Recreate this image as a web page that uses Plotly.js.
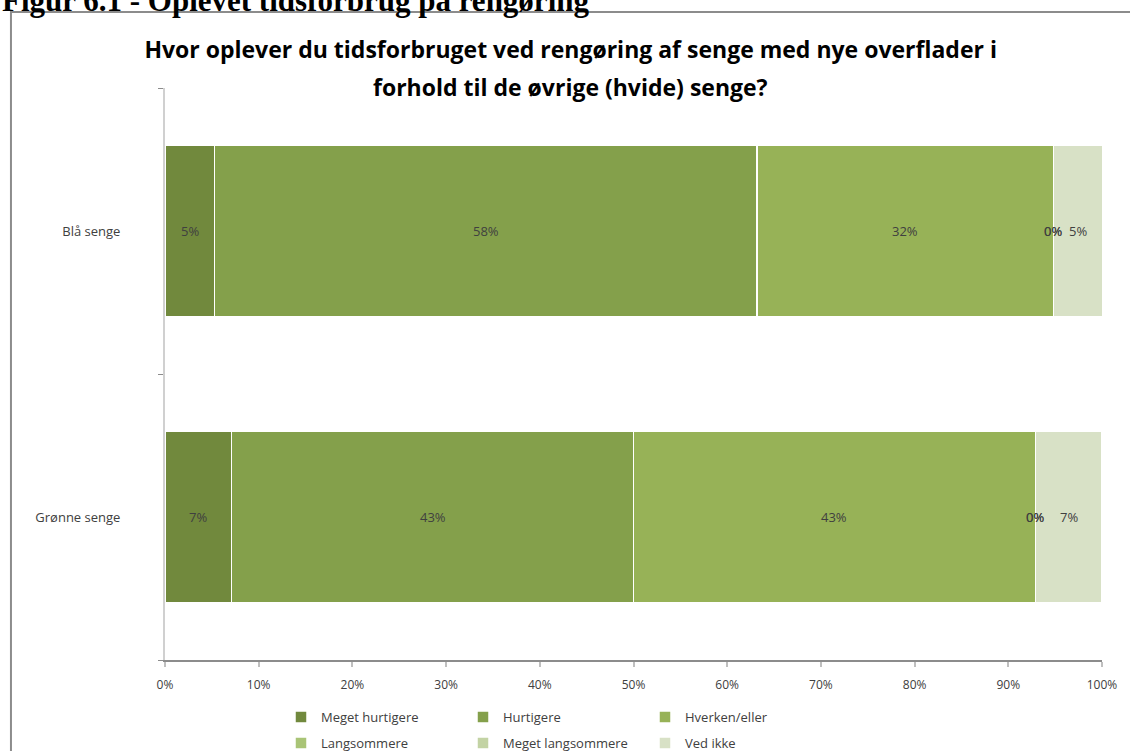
<!DOCTYPE html>
<html>
<head>
<meta charset="utf-8">
<script src="https://cdn.plot.ly/plotly-3.0.1.min.js"></script>
<style>html,body{margin:0;padding:0;background:#fff;}#chart{width:1130px;height:751px;}</style>
</head>
<body>
<div id="chart"></div>
<script>
// Data
const categories = ['Blå senge', 'Grønne senge'];
const seriesNames = ['Meget hurtigere', 'Hurtigere', 'Hverken/eller', 'Langsommere', 'Meget langsommere', 'Ved ikke'];
const blaaSenge = [5.3, 57.9, 31.6, 0, 0, 5.3];
const groenneSenge = [7.1, 42.9, 42.9, 0, 0, 7.1];
const xTickVals = [0, 10, 20, 30, 40, 50, 60, 70, 80, 90, 100];
const xTickText = ['0%', '10%', '20%', '30%', '40%', '50%', '60%', '70%', '80%', '90%', '100%'];
const titleLine1 = 'Hvor oplever du tidsforbruget ved rengøring af senge med nye overflader i';
const titleLine2 = 'forhold til de øvrige (hvide) senge?';
const captionText = 'Figur 6.1 - Oplevet tidsforbrug på rengøring';

const colors = ['#71893d', '#84a04b', '#97b257', '#a9c476', '#c3d3a4', '#d8e1c6'];
const rows = [blaaSenge, groenneSenge];

const traces = seriesNames.map((name, i) => ({
  type: 'bar',
  orientation: 'h',
  name: name,
  y: categories,
  x: rows.map(r => r[i]),
  width: 0.6,
  marker: {color: colors[i], line: {color: '#ffffff', width: 1.5}},
  hoverinfo: 'x+name',
  legend: i < 3 ? 'legend' : 'legend2'
}));

const titleFont = {family: 'Open Sans, sans-serif', size: 23, color: '#000'};
const annotations = [];
rows.forEach((r, ci) => {
  let cum = 0;
  r.forEach((v) => {
    annotations.push({
      x: cum + v / 2, y: categories[ci], xref: 'x', yref: 'y',
      text: Math.round(v) + '%', showarrow: false,
      font: {family: 'Open Sans, sans-serif', size: 13, color: '#404040'}
    });
    cum += v;
  });
});
// second title line
annotations.push({
  x: (570.6 - 165) / 937, y: (660 - 87) / 572, xref: 'paper', yref: 'paper', xanchor: 'center', yanchor: 'middle',
  text: '<b>' + titleLine2 + '</b>', showarrow: false, font: titleFont
});
// figure caption, partly cut at the top edge (as in the reference)
annotations.push({
  x: (0 - 165) / 937, y: (660 - 20) / 572, xref: 'paper', yref: 'paper', xanchor: 'left', yanchor: 'bottom',
  text: '<b>' + captionText + '</b>', showarrow: false,
  font: {family: 'Liberation Serif, serif', size: 31, color: '#000'}
});

const legendFont = {family: 'Open Sans, sans-serif', size: 13, color: '#404040'};
const layout = {
  width: 1130, height: 751,
  margin: {l: 165, r: 28, t: 88, b: 91},
  paper_bgcolor: '#ffffff', plot_bgcolor: '#ffffff',
  barmode: 'stack',
  title: {
    text: '<b>' + titleLine1 + '</b>',
    font: titleFont,
    x: 0.505, xref: 'container', xanchor: 'center', yref: 'container', y: 1 - 50 / 751, yanchor: 'middle'
  },
  xaxis: {
    range: [0, 100], tickvals: xTickVals, ticktext: xTickText,
    showgrid: false, zeroline: false, showline: true, linecolor: '#8c8c8c', linewidth: 1.5,
    ticks: 'outside', ticklen: 5, tickcolor: '#bfbfbf', tickwidth: 2,
    ticklabelstandoff: 8,
    tickfont: {family: 'Open Sans, sans-serif', size: 12, color: '#404040'}
  },
  yaxis: {
    type: 'category', categoryorder: 'array', categoryarray: ['Grønne senge', 'Blå senge'],
    showgrid: false, zeroline: false, showline: true, linecolor: '#d0d0d0', linewidth: 2,
    ticks: 'outside', tickson: 'boundaries', ticklen: 5, tickcolor: '#8c8c8c', tickwidth: 1,
    ticklabelstandoff: 40,
    tickfont: {family: 'Open Sans, sans-serif', size: 13, color: '#404040'}
  },
  legend: {
    orientation: 'h', xref: 'container', yref: 'container', x: 281 / 1130, y: 1 - 717 / 751,
    xanchor: 'left', yanchor: 'middle',
    entrywidth: 137, font: legendFont, traceorder: 'normal', itemclick: false
  },
  legend2: {
    orientation: 'h', xref: 'container', yref: 'container', x: 281 / 1130, y: 1 - 743 / 751,
    xanchor: 'left', yanchor: 'middle',
    entrywidth: 137, font: legendFont, traceorder: 'normal', itemclick: false
  },
  annotations: annotations,
  shapes: [{
    type: 'rect', xref: 'paper', yref: 'paper',
    x0: -0.1644, x1: 1.04, y0: -0.2, y1: 1.1329,
    line: {color: '#8c8c8c', width: 2}, fillcolor: 'rgba(0,0,0,0)', layer: 'below'
  }],
  showlegend: true
};

Plotly.newPlot('chart', traces, layout, {displayModeBar: false, staticPlot: true});
</script>
</body>
</html>
